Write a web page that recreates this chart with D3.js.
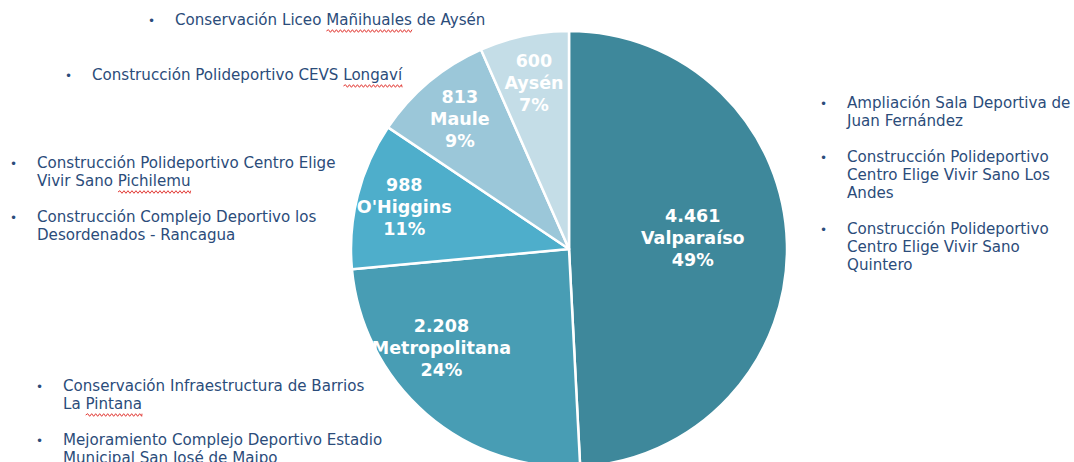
<!DOCTYPE html>
<html>
<head>
<meta charset="utf-8">
<script src="https://cdn.jsdelivr.net/npm/d3@7"></script>
<style>
  body { margin: 0; background: #fff; }
  svg { display: block; }
  text { font-family: "DejaVu Sans", Verdana, sans-serif; }
</style>
</head>
<body>
<div id="container"></div>
<script>
/* CONSTANTS AND GLOBALS */
const width = 1074,
  height = 462;

/* DATA */
const regions = ["Valparaíso", "Metropolitana", "O'Higgins", "Maule", "Aysén"];
const amounts = [4461, 2208, 988, 813, 600];
const sliceColors = ["#3e889b", "#489db4", "#4eaecb", "#9bc7d9", "#c4dde7"];

// project bullets, each item is a list of lines
const projectsTop = [["Conservación Liceo Mañihuales de Aysén"]];
const projectsUpperLeft = [["Construcción Polideportivo CEVS Longaví"]];
const projectsLeft = [
  ["Construcción Polideportivo Centro Elige", "Vivir Sano Pichilemu"],
  ["Construcción Complejo Deportivo los", "Desordenados - Rancagua"]
];
const projectsRight = [
  ["Ampliación Sala Deportiva de", "Juan Fernández"],
  ["Construcción Polideportivo", "Centro Elige Vivir Sano Los", "Andes"],
  ["Construcción Polideportivo", "Centro Elige Vivir Sano", "Quintero"]
];
const projectsBottom = [
  ["Conservación Infraestructura de Barrios", "La Pintana"],
  ["Mejoramiento Complejo Deportivo Estadio", "Municipal San José de Maipo"]
];
// words flagged by the spell checker in the original slide
const flaggedWords = ["Mañihuales", "Longaví", "Pichilemu", "Pintana"];

/* CREATE SVG ELEMENT */
const svg = d3.select("#container")
  .append("svg")
  .attr("width", width)
  .attr("height", height);

/* PIE */
const cx = 569, cy = 249, radius = 218;
const total = d3.sum(amounts);
const data = regions.map((r, i) => ({ region: r, value: amounts[i] }));

const pie = d3.pie().sort(null).value(d => d.value);
const arcs = pie(data);

const color = d3.scaleOrdinal().domain(regions).range(sliceColors);

const arcGen = d3.arc().innerRadius(0).outerRadius(radius);

const locale = d3.formatLocale({ decimal: ",", thousands: ".", grouping: [3], currency: ["$", ""] });
const fmt = locale.format(",d");

const pieG = svg.append("g").attr("transform", `translate(${cx},${cy})`);

pieG.selectAll(".slice")
  .data(arcs)
  .join("path")
  .attr("class", "slice")
  .attr("d", arcGen)
  .attr("fill", d => color(d.data.region))
  .attr("stroke", "#fff")
  .attr("stroke-width", 2.5)
  .attr("stroke-linejoin", "round");

// label spot inside each slice (roughly the "best fit" spots of the original)
const labelPos = d => {
  const share = d.value / total;
  let t = 0.5, k = 0.78;
  if (share > 0.4) { t = 0.48; k = 0.57; }
  else if (share > 0.2) { t = 0.63; k = 0.74; }
  const a = d.startAngle + t * (d.endAngle - d.startAngle);
  const r = k * radius;
  return [r * Math.sin(a), -r * Math.cos(a)];
};

const labels = pieG.selectAll(".lbl")
  .data(arcs)
  .join("text")
  .attr("class", "lbl")
  .attr("text-anchor", "middle")
  .attr("fill", "#fff")
  .attr("font-weight", "bold")
  .attr("font-size", 17.5)
  .attr("transform", d => {
    const [x, y] = labelPos(d);
    return `translate(${x},${y})`;
  });

labels.each(function(d) {
  const t = d3.select(this);
  const lines = [fmt(d.value), d.data.region, Math.round(d.value / total * 100) + "%"];
  lines.forEach((l, i) => {
    t.append("tspan")
      .attr("x", 0)
      .attr("y", (i - 1) * 22 + 6)
      .text(l);
  });
});

/* BULLET LISTS */
const lineH = 18;
function bulletList(items, x, y, gap) {
  const g = svg.append("g").attr("transform", `translate(${x},${y})`);
  let yy = 0;
  items.forEach(lines => {
    g.append("text")
      .attr("x", 0)
      .attr("y", yy)
      .attr("font-size", 12)
      .attr("fill", "#2b4c7a")
      .text("•");
    lines.forEach((l, i) => {
      const t = g.append("text")
        .attr("x", 27)
        .attr("y", yy + i * lineH)
        .attr("font-size", 15.1)
        .attr("fill", "#2b4c7a");
      // split so flagged words get a squiggle under them
      const words = l.split(" ");
      words.forEach((w, k) => {
        t.append("tspan").attr("class", flaggedWords.includes(w) ? "flag" : null)
          .text((k ? " " : "") + w);
      });
      t.selectAll("tspan.flag").each(function() {
        const node = this;
        const idx = Array.from(t.node().childNodes).indexOf(node);
        let start = 0;
        for (let c = 0; c < idx; c++) start += t.node().childNodes[c].getComputedTextLength();
        const wlen = node.getComputedTextLength();
        const x0 = 27 + start + 5, x1 = 27 + start + wlen;
        const base = yy + i * lineH + 6;
        let p = `M${x0},${base}`;
        for (let px = x0, up = true; px < x1; px += 2, up = !up) {
          p += `L${Math.min(px + 2, x1)},${base + (up ? -1.3 : 1.3)}`;
        }
        g.append("path").attr("d", p).attr("fill", "none")
          .attr("stroke", "#e23a35").attr("stroke-width", 1);
      });
    });
    yy += lines.length * lineH + gap;
  });
}

bulletList(projectsTop, 148, 25, 18);
bulletList(projectsUpperLeft, 65, 80, 18);
bulletList(projectsLeft, 10, 168, 18);
bulletList(projectsRight, 820, 108, 18);
bulletList(projectsBottom, 36, 391, 18);
</script>
</body>
</html>
